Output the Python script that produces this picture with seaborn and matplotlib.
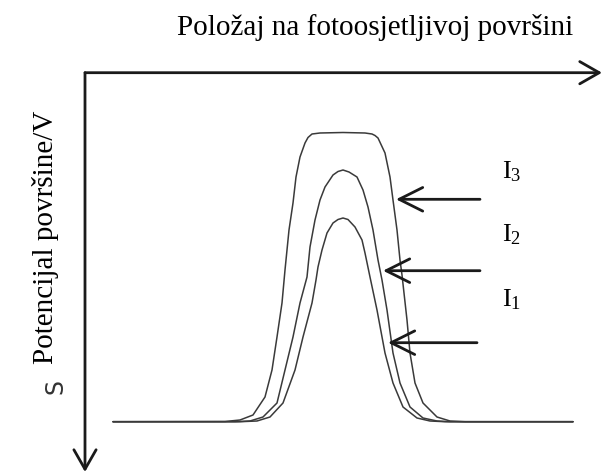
import pandas as pd
import matplotlib
matplotlib.use("Agg")
import matplotlib.pyplot as plt
import seaborn as sns

# points: position on the surface (x) and potential (y, grows downward)
i1_x = [113, 240, 257, 270, 283, 295, 303, 312, 316, 318, 322, 327, 333, 338, 343,
        348, 355, 362, 365, 370, 377, 385, 393, 403, 417, 430, 445, 573]
i1_y = [421.7, 421.7, 421, 417, 403, 370, 337, 303, 280, 267, 250, 233, 223, 219.5, 218,
        219.5, 227, 240, 253, 277, 310, 353, 383, 407, 418, 421, 421.7, 421.7]

i2_x = [113, 235, 250, 263, 277, 285, 293, 300, 307, 310, 315, 320, 325, 333, 338, 343,
        349, 357, 363, 368, 373, 378, 380, 382, 387, 393, 400, 410, 423, 437, 450, 573]
i2_y = [421.7, 421.7, 421, 417, 403, 370, 337, 303, 277, 247, 220, 200, 187, 175, 171.5, 170,
        172, 177, 190, 207, 230, 260, 270, 280, 310, 353, 383, 407, 418, 421, 421.7, 421.7]

i3_x = [113, 225, 240, 253, 265, 272, 277, 282, 285, 286, 289, 293, 296, 300,
        305, 308, 312, 320, 343, 365, 372, 375, 378, 385, 390, 393, 397, 400, 402, 407, 410,
        415, 423, 437, 450, 465, 573]
i3_y = [421.7, 421.5, 420, 415, 397, 370, 337, 303, 270, 260, 230, 203, 177, 157,
        143, 137.5, 134, 133, 132.5, 133, 134, 135.5, 138, 153, 177, 200, 230, 260, 275, 320, 353,
        383, 403, 417, 421, 421.7, 421.7]

curve_names = ["I1", "I2", "I3"]
label_text = [r"$\mathrm{I}_{1}$", r"$\mathrm{I}_{2}$", r"$\mathrm{I}_{3}$"]
label_x = [502, 502, 502]
label_y = [306.7, 241.7, 178.3]

# arrows pointing at each curve
arrow_y = [342.7, 270.7, 199.3]
arrow_tip = [388, 383, 396]
arrow_tail = [477, 480, 480]

title = "Položaj na fotoosjetljivoj površini"
ylabel = "Potencijal površine/V"

W, H = 603, 473
X0, Y0 = 85, 72.7          # corner where the two axis arrows start
X_END, Y_END = 602, 472

sns.set_theme(style="white")
plt.rcParams["font.family"] = ["Liberation Serif", "DejaVu Serif"]
plt.rcParams["mathtext.fontset"] = "custom"
plt.rcParams["mathtext.rm"] = "Liberation Serif"
plt.rcParams["mathtext.it"] = "Liberation Serif:italic"

df = pd.concat([
    pd.DataFrame({"x": i1_x, "y": i1_y, "curve": "I1"}),
    pd.DataFrame({"x": i2_x, "y": i2_y, "curve": "I2"}),
    pd.DataFrame({"x": i3_x, "y": i3_y, "curve": "I3"}),
])

fig = plt.figure(figsize=(W / 100, H / 100), dpi=100)
ax = fig.add_axes([0, 0, 1, 1])

sns.lineplot(data=df, x="x", y="y", hue="curve", hue_order=curve_names,
             palette=["#3a3a3a"] * 3, linewidth=1.1, legend=False,
             estimator=None, sort=False, ax=ax)

ax.set_xlim(0, W)
ax.set_ylim(H, 0)
ax.axis("off")

# axis arrows
axis_style = dict(arrowstyle="->,head_length=1.4,head_width=0.8", lw=2.0,
                  color="#1a1a1a", shrinkA=0, shrinkB=0, mutation_scale=10)
ax.annotate("", xy=(X_END, Y0), xytext=(X0, Y0), arrowprops=axis_style)
ax.annotate("", xy=(X0, Y_END), xytext=(X0, Y0), arrowprops=axis_style)

# arrows to the curves and their labels
pointer_style = dict(arrowstyle="->,head_length=1.7,head_width=0.85", lw=2.0,
                     color="#1a1a1a", shrinkA=0, shrinkB=0, mutation_scale=10)
for yy, tip, tail in zip(arrow_y, arrow_tip, arrow_tail):
    ax.annotate("", xy=(tip, yy), xytext=(tail, yy), arrowprops=pointer_style)
for txt, lx, ly in zip(label_text, label_x, label_y):
    ax.text(lx, ly, txt, fontsize=19, ha="left", va="baseline", color="black")

ax.text(375, 35, title, fontsize=21, ha="center", va="baseline", color="black")
ax.text(46, 237, ylabel, fontsize=21, rotation=90, ha="center", va="center",
        color="black")
ax.text(55, 386, "S", fontsize=17, rotation=90, ha="center", va="center",
        color="#333333", family="DejaVu Sans")

fig.savefig("out.png", dpi=100)
plt.close(fig)
